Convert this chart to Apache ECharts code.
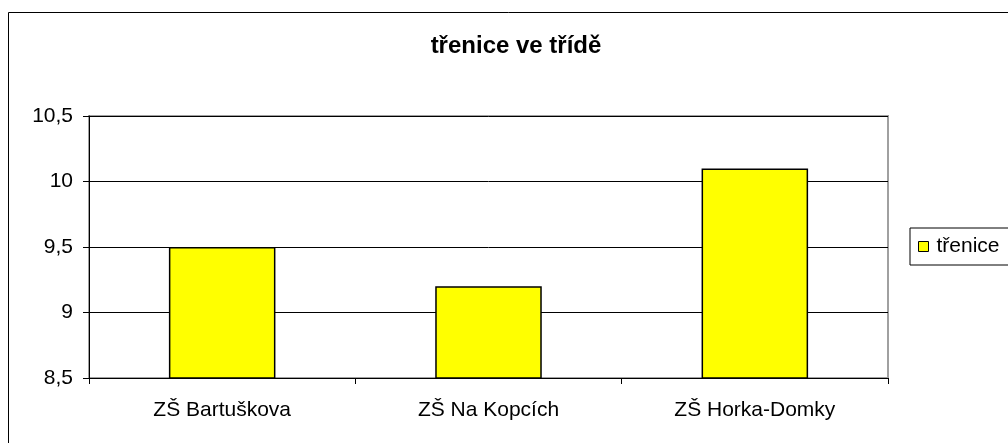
<!DOCTYPE html>
<html>
<head>
<meta charset="utf-8">
<script src="https://cdn.jsdelivr.net/npm/echarts@6/dist/echarts.min.js"></script>
<style>
  html, body { margin: 0; padding: 0; background: #fff; }
  #chart { width: 1008px; height: 443px; }
</style>
</head>
<body>
<div id="chart"></div>
<script>
// data
var skoly = ['ZŠ Bartuškova', 'ZŠ Na Kopcích', 'ZŠ Horka-Domky']
var trenice = [9.5, 9.2, 10.1]
var nazevSerie = 'třenice'
var nadpis = 'třenice ve třídě'

var myChart = echarts.init(document.getElementById('chart'))

myChart.setOption({
  animation: false,
  textStyle: { fontFamily: 'Liberation Sans, Arial, sans-serif' },
  title: {
    text: nadpis,
    left: 511,
    top: 29,
    textAlign: 'center',
    textStyle: { fontSize: 24, fontWeight: 'bold', color: '#000' }
  },
  // ramecek celeho grafu
  graphic: [
    {
      type: 'rect',
      shape: { x: 8.5, y: 12.5, width: 1100, height: 500 },
      style: { fill: 'none', stroke: '#000', lineWidth: 1 },
      z: -1
    }
  ],
  legend: {
    data: [nazevSerie],
    left: 910,
    top: 228,
    orient: 'vertical',
    padding: [8, 40, 8, 8],
    borderColor: '#000',
    borderWidth: 1,
    itemWidth: 10,
    itemHeight: 10,
    itemGap: 0,
    icon: 'rect',
    itemStyle: { borderColor: '#000', borderWidth: 1 },
    textStyle: { fontSize: 21, color: '#000', padding: [0, 0, 0, 3] }
  },
  grid: {
    left: 89,
    right: 120,
    top: 116,
    bottom: 65,
    show: true,
    borderColor: '#a0a0a0',
    borderWidth: 2
  },
  xAxis: {
    type: 'category',
    data: skoly,
    axisLine: { lineStyle: { color: '#000', width: 1 } },
    axisTick: { show: true, length: 6, lineStyle: { color: '#000' } },
    axisLabel: { fontSize: 21, color: '#000', margin: 22 }
  },
  yAxis: {
    type: 'value',
    min: 8.5,
    max: 10.5,
    interval: 0.5,
    axisLine: { show: true, lineStyle: { color: '#000', width: 1 } },
    axisTick: { show: true, length: 6, lineStyle: { color: '#000' } },
    axisLabel: {
      fontSize: 21,
      color: '#000',
      margin: 16,
      formatter: function (v) { return String(v).replace('.', ',') }
    },
    splitLine: { lineStyle: { color: '#000', width: 1 } }
  },
  series: [
    {
      name: nazevSerie,
      type: 'bar',
      data: trenice,
      barWidth: '40%',
      itemStyle: { color: '#ffff00', borderColor: '#000', borderWidth: 1.5 }
    }
  ]
})
</script>
</body>
</html>
